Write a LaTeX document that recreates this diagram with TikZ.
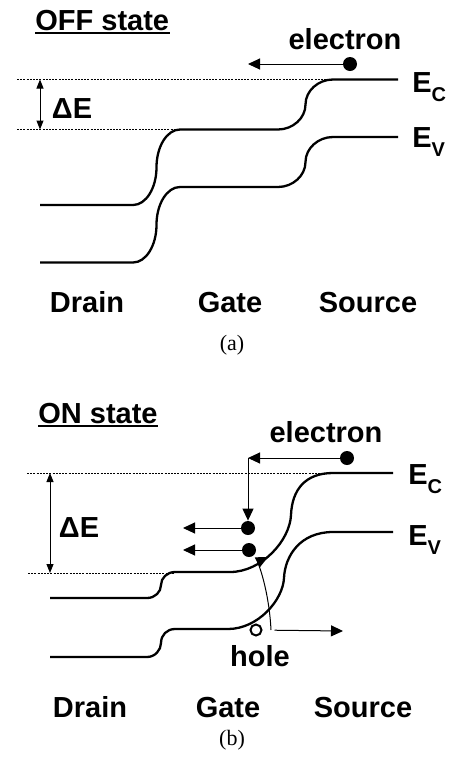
\documentclass[tikz,border=0pt]{standalone}
\usepackage{fontspec}
\setmainfont{Liberation Sans}
\newfontfamily\capfont{Liberation Serif}
\usetikzlibrary{arrows.meta}
\newcommand\lowsub[1]{\raisebox{-4.5pt}{\fontsize{10}{10}\selectfont #1}}

\begin{document}
\begin{tikzpicture}[
    x=0.5pt, y=-0.5pt,
    band/.style={line width=1.15pt, line join=round},
    reflevel/.style={line width=0.4pt, dash pattern=on 1pt off 0.6pt},
    carrier/.style={-{Triangle[length=6pt, width=5.5pt]}, line width=0.5pt},
    gaparrow/.style={{Triangle[length=4.5pt, width=3.5pt]}-{Triangle[length=4.5pt, width=3.5pt]}, line width=0.5pt},
    txt/.style={font=\fontsize{14.5}{16}\selectfont\bfseries, inner sep=0pt},
    caption/.style={font=\capfont\fontsize{11}{13}\selectfont, inner sep=0pt},
    edot/.style={circle, fill, inner sep=0pt, minimum size=7pt},
    hdot/.style={circle, draw, line width=1pt, inner sep=0pt, minimum size=5.5pt},
  ]

  \def\bandgap{57.5} % Ec to Ev spacing
  \useasboundingbox (0,0) rectangle (450,761);

  % --- (a) OFF state ---
  \node[txt, anchor=base west] (offT) at (35,30) {OFF state};
  \draw[line width=1pt] ([yshift=-1.5pt]offT.base west) -- ([yshift=-1.5pt]offT.base east);

  % Bands: Ec, then Ev one gap lower
  \foreach \dy in {0, \bandgap} {
    \draw[band, shift={(0,\dy)}] (40,205) -- (133,205)
      .. controls (146,205) and (156.5,188) .. (156.5,167.25)
      .. controls (156.5,146.5) and (167,129.5) .. (180,129.5) -- (278,129.5)
      .. controls (293,129.5) and (305.5,118) .. (305.5,104.5)
      .. controls (305.5,91) and (318,79.5) .. (333,79.5) -- (398,79.5);
  }

  % Barrier height
  \draw[reflevel] (17,79.5) -- (333,79.5);
  \draw[reflevel] (17,129.5) -- (180,129.5);
  \coordinate (gapTopA) at (40,79.5);
  \coordinate (gapBotA) at (40,129.5);
  \draw[gaparrow] (gapTopA) -- (gapBotA);
  \node[txt, anchor=base] (gapA) at (72,118) {ΔE};

  \node[txt, anchor=base west] (ecA) at (412,92) {E\lowsub{C}};
  \node[txt, anchor=base west] (evA) at (412,147) {E\lowsub{V}};

  % Electron
  \node[edot] (elA) at (350,64) {};
  \coordinate (elEndA) at (248,64);
  \draw[carrier] (elA) -- (elEndA);
  \node[txt, anchor=base] (elTxtA) at (345,49) {electron};

  \node[txt, anchor=base] (drainA) at (87,312) {Drain};
  \node[txt, anchor=base] (gateA) at (230,312) {Gate};
  \node[txt, anchor=base] (sourceA) at (368,312) {Source};
  \node[caption] (capA) at (232,345) {(a)};

  % --- (b) ON state ---
  \node[txt, anchor=base west] (onT) at (38,423) {ON state};
  \draw[line width=1pt] ([yshift=-1.5pt]onT.base west) -- ([yshift=-1.5pt]onT.base east);

  % Ec
  \draw[band] (50,598) -- (147,598)
    .. controls (155,598) and (161,592) .. (161,585)
    .. controls (161,578) and (167,572) .. (175,572) -- (230,572)
    .. controls (262,572) and (290,540) .. (291,515)
    .. controls (292,490) and (305,473) .. (333,473) -- (393,473);
  % Ev
  \draw[band] (50,657) -- (147,657)
    .. controls (155,657) and (161,650) .. (161,643)
    .. controls (161,635) and (167,629) .. (175,629) -- (228,629)
    .. controls (258,629) and (283,600) .. (284,578)
    .. controls (285,556) and (300,532) .. (333,532) -- (393,532);

  % Barrier height
  \draw[reflevel] (27,473) -- (333,473);
  \draw[reflevel] (28,573) -- (175,573);
  \coordinate (gapTopB) at (50,473);
  \coordinate (gapBotB) at (50,573);
  \draw[gaparrow] (gapTopB) -- (gapBotB);
  \node[txt, anchor=base] (gapB) at (79,537) {ΔE};

  \node[txt, anchor=base west] (ecB) at (408,484) {E\lowsub{C}};
  \node[txt, anchor=base west] (evB) at (408,545) {E\lowsub{V}};

  % Electron injected from source
  \node[edot] (elB) at (347,458) {};
  \coordinate (elTurnB) at (248,458);
  \node[txt, anchor=base] (elTxtB) at (326,442) {electron};
  \node[edot] (dotB1) at (248,528) {};
  \node[edot] (dotB2) at (249,550) {};
  \coordinate (dotEndB1) at (183,528);
  \coordinate (dotEndB2) at (183,550);
  \draw[carrier] (elB) -- (elTurnB);
  \draw[carrier] (elTurnB) -- (dotB1);
  \draw[carrier] (dotB1) -- (dotEndB1);
  \draw[carrier] (dotB2) -- (dotEndB2);

  % Hole and band-to-band tunnelling
  \node[hdot] (holeB) at (256,630) {};
  \coordinate (holeEndB) at (343,631);
  \draw[carrier, shorten <=6pt] (holeB) -- (holeEndB);
  \coordinate (tunStart) at (271,630);
  \coordinate (tunEnd) at (268,557);
  \draw[carrier] (tunStart) .. controls (269,590) and (258,562) .. (tunEnd);
  \node[txt, anchor=base] (holeTxt) at (260,666) {hole};

  \node[txt, anchor=base] (drainB) at (90,717) {Drain};
  \node[txt, anchor=base] (gateB) at (228,717) {Gate};
  \node[txt, anchor=base] (sourceB) at (363,717) {Source};
  \node[caption] (capB) at (232,740) {(b)};

\end{tikzpicture}
\end{document}
